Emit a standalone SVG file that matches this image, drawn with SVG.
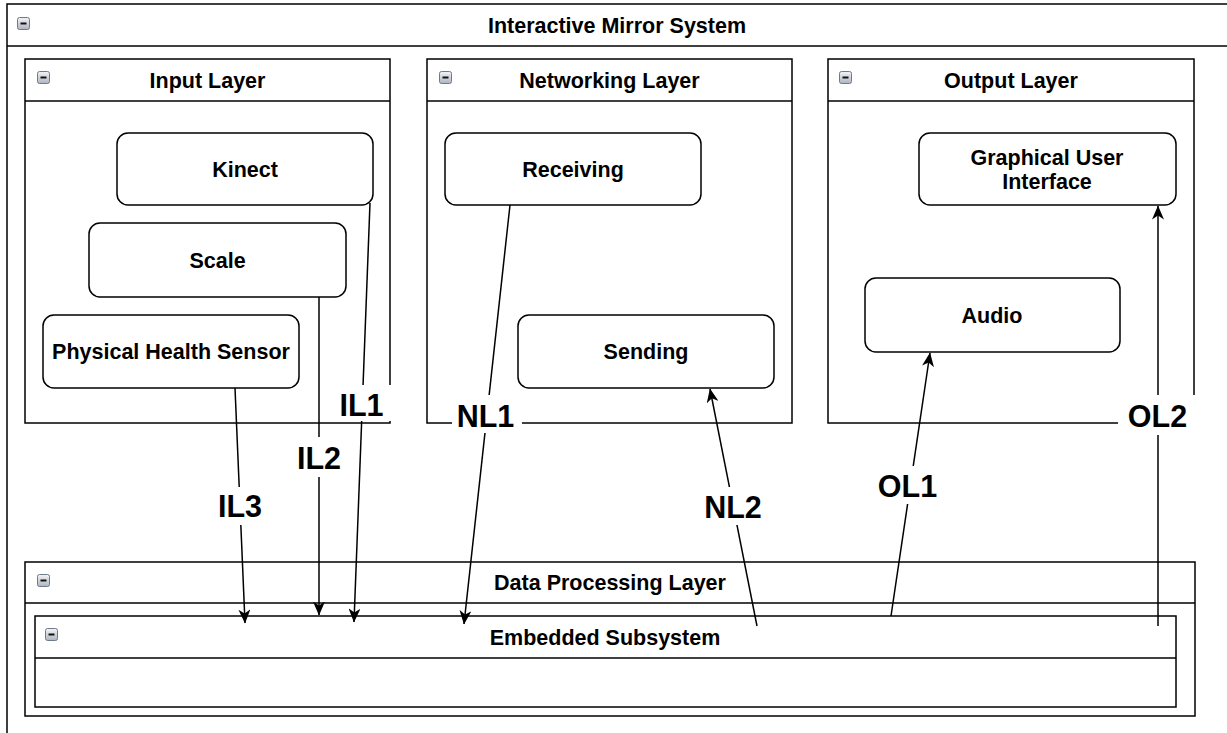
<svg xmlns="http://www.w3.org/2000/svg" xmlns:xlink="http://www.w3.org/1999/xlink" width="1227" height="733" viewBox="0 0 1227 733">
<style>
.box{fill:#fff;stroke:#000;stroke-width:1.5}
.hd{fill:none;stroke:#000;stroke-width:1.5}
.node{fill:#fff;stroke:#000;stroke-width:1.5}
.t{font-family:"Liberation Sans",Arial,sans-serif;font-weight:bold;font-size:21.5px;fill:#000;text-anchor:middle}
.lbl{font-family:"Liberation Sans",Arial,sans-serif;font-weight:bold;font-size:30.5px;fill:#000;text-anchor:middle}
.edge{fill:none;stroke:#000;stroke-width:1.5}
.bg{fill:#fff;stroke:none}
</style>
<defs>
<linearGradient id="tg" x1="0" y1="0" x2="0" y2="1">
<stop offset="0" stop-color="#f2f4f7"/>
<stop offset="1" stop-color="#aeb5bf"/>
</linearGradient>
<g id="tog">
<rect x="0.5" y="0.5" width="12" height="12" rx="2" fill="url(#tg)" stroke="#6f7a88" stroke-width="1"/>
<line x1="3.5" y1="6.5" x2="9.5" y2="6.5" stroke="#111" stroke-width="2"/>
</g>
<marker id="arr" viewBox="0 0 14 12" markerWidth="14" markerHeight="12" refX="13.5" refY="6" orient="auto" markerUnits="userSpaceOnUse">
<path d="M0,0 L14,6 L0,12 L4,6 z" fill="#000"/>
</marker>
</defs>
<rect width="1227" height="733" fill="#fff"/>

<g id="interactive-mirror-system">
<rect class="box" x="7" y="4" width="1226" height="740"/>
<line class="hd" x1="7" y1="46" x2="1227" y2="46"/>
<use xlink:href="#tog" x="17" y="17"/>
<text class="t" x="617" y="33">Interactive Mirror System</text>
</g>

<g id="input-layer">
<rect class="box" x="25" y="59" width="365" height="364"/>
<line class="hd" x1="25" y1="101" x2="390" y2="101"/>
<use xlink:href="#tog" x="37" y="71"/>
<text class="t" x="207.5" y="88">Input Layer</text>
</g>

<g id="networking-layer">
<rect class="box" x="427" y="59" width="365" height="364"/>
<line class="hd" x1="427" y1="101" x2="792" y2="101"/>
<use xlink:href="#tog" x="439" y="71"/>
<text class="t" x="609.5" y="88">Networking Layer</text>
</g>

<g id="output-layer">
<rect class="box" x="828" y="59" width="366" height="364"/>
<line class="hd" x1="828" y1="101" x2="1194" y2="101"/>
<use xlink:href="#tog" x="839" y="71"/>
<text class="t" x="1011" y="88">Output Layer</text>
</g>

<g id="data-processing-layer">
<rect class="box" x="25" y="562" width="1170" height="154"/>
<line class="hd" x1="25" y1="603" x2="1195" y2="603"/>
<use xlink:href="#tog" x="37" y="574"/>
<text class="t" x="610" y="590">Data Processing Layer</text>
</g>

<g id="embedded-subsystem">
<rect class="box" x="35" y="616" width="1141" height="91"/>
<line class="hd" x1="35" y1="658" x2="1176" y2="658"/>
<use xlink:href="#tog" x="45" y="628"/>
<text class="t" x="605" y="644.5">Embedded Subsystem</text>
</g>

<g id="kinect">
<rect class="node" x="117" y="133" width="256" height="72" rx="11"/>
<text class="t" x="245" y="177">Kinect</text>
</g>
<g id="scale">
<rect class="node" x="89" y="223" width="257" height="74" rx="11"/>
<text class="t" x="217.5" y="268">Scale</text>
</g>
<g id="physical-health-sensor">
<rect class="node" x="43" y="315" width="256" height="73" rx="11"/>
<text class="t" x="171" y="359">Physical Health Sensor</text>
</g>
<g id="receiving">
<rect class="node" x="445" y="133" width="256" height="72" rx="11"/>
<text class="t" x="573" y="177">Receiving</text>
</g>
<g id="sending">
<rect class="node" x="518" y="315" width="256" height="73" rx="11"/>
<text class="t" x="646" y="359">Sending</text>
</g>
<g id="gui">
<rect class="node" x="919" y="133" width="257" height="72" rx="11"/>
<text class="t" x="1047" y="165">Graphical User</text>
<text class="t" x="1047" y="188.5">Interface</text>
</g>
<g id="audio">
<rect class="node" x="865" y="278" width="255" height="74" rx="11"/>
<text class="t" x="992" y="322.5">Audio</text>
</g>

<g id="connectors">
<line class="edge" x1="370" y1="203" x2="354" y2="622" marker-end="url(#arr)"/>
<line class="edge" x1="319" y1="297" x2="319" y2="615" marker-end="url(#arr)"/>
<line class="edge" x1="235" y1="388" x2="245" y2="623" marker-end="url(#arr)"/>
<line class="edge" x1="510" y1="205" x2="464" y2="624" marker-end="url(#arr)"/>
<line class="edge" x1="757" y1="626" x2="710" y2="389" marker-end="url(#arr)"/>
<line class="edge" x1="891" y1="616" x2="930" y2="353" marker-end="url(#arr)"/>
<line class="edge" x1="1158" y1="626" x2="1158" y2="206" marker-end="url(#arr)"/>

<rect class="bg" x="336" y="385" width="56" height="36"/>
<text class="lbl" x="361.5" y="416">IL1</text>
<rect class="bg" x="293" y="437" width="52" height="40"/>
<text class="lbl" x="319" y="469">IL2</text>
<rect class="bg" x="214" y="487" width="53" height="38"/>
<text class="lbl" x="240" y="517">IL3</text>
<rect class="bg" x="452" y="395" width="70" height="38"/>
<text class="lbl" x="485.5" y="427">NL1</text>
<rect class="bg" x="700" y="487" width="66" height="38"/>
<text class="lbl" x="733" y="518">NL2</text>
<rect class="bg" x="873" y="466" width="69" height="38"/>
<text class="lbl" x="907.5" y="497">OL1</text>
<rect class="bg" x="1118" y="395" width="79" height="40"/>
<text class="lbl" x="1157.5" y="427">OL2</text>
</g>
</svg>
